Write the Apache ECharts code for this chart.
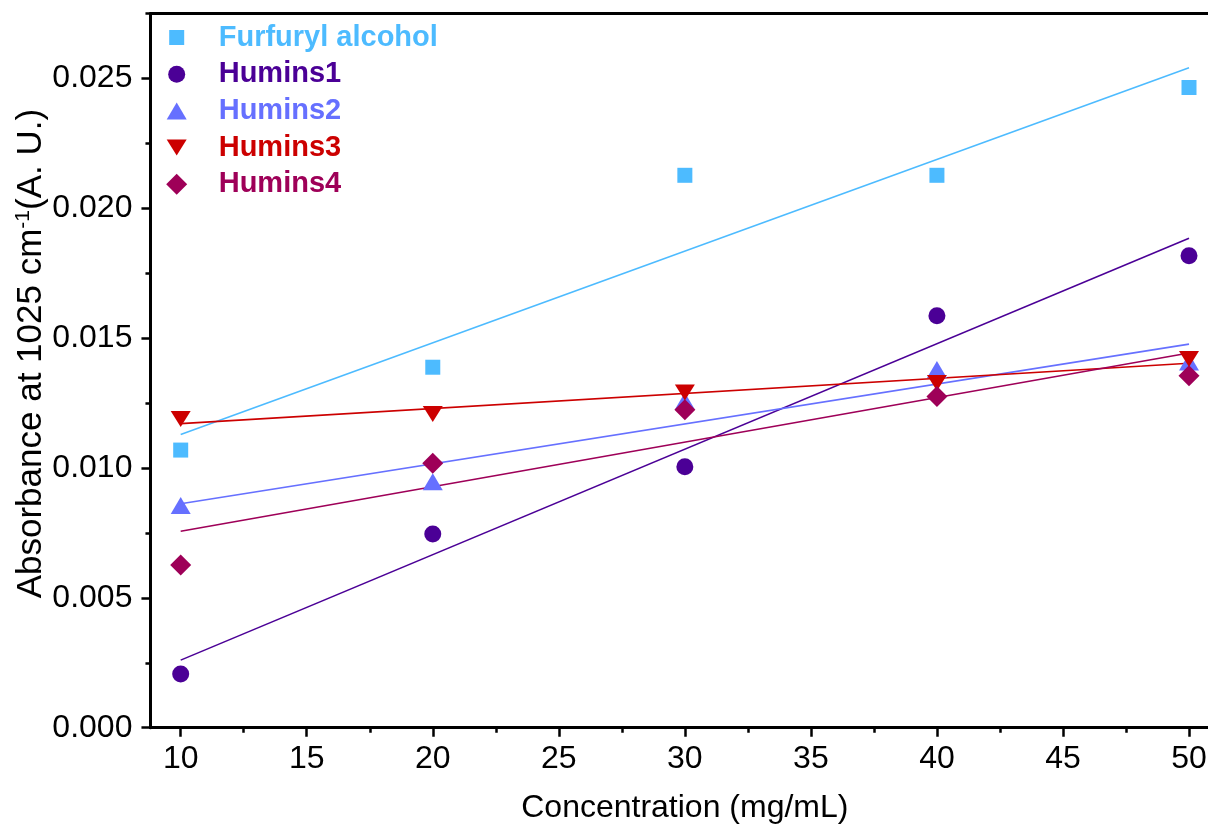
<!DOCTYPE html>
<html>
<head>
<meta charset="utf-8">
<title>Absorbance vs concentration</title>
<script src="https://cdn.jsdelivr.net/npm/echarts@6/dist/echarts.min.js"></script>
<style>
  html, body { margin: 0; padding: 0; background: #ffffff; }
  #chart { width: 1208px; height: 831px; }
</style>
</head>
<body>
<div id="chart"></div>
<script>
// Measured absorbance at 1025 cm-1 for each concentration (mg/mL)
const concentrations = [10, 20, 30, 40, 50];
const furfurylAlcohol = [0.01069, 0.01388, 0.02127, 0.02127, 0.02465];
const humins1 = [0.00207, 0.00746, 0.01005, 0.01586, 0.01817];
const humins2 = [0.00856, 0.00947, 0.01258, 0.01379, 0.01408];
const humins3 = [0.01189, 0.01208, 0.01291, 0.01327, 0.01420];
const humins4 = [0.00626, 0.01018, 0.01224, 0.01275, 0.01355];

const seriesNames = ['Furfuryl alcohol', 'Humins1', 'Humins2', 'Humins3', 'Humins4'];

// Axis tick values
const xMajorTicks = [10, 15, 20, 25, 30, 35, 40, 45, 50];
const xMinorTicks = [12.5, 17.5, 22.5, 27.5, 32.5, 37.5, 42.5, 47.5];
const yMajorTicks = [0, 0.005, 0.010, 0.015, 0.020, 0.025];
const yMinorTicks = [0.0025, 0.0075, 0.0125, 0.0175, 0.0225, 0.0275];

const seriesValues = [furfurylAlcohol, humins1, humins2, humins3, humins4];
const colors = ['#4DBBFF', '#4B0096', '#6670FF', '#CC0000', '#9E0058'];
const symbols = ['rect', 'circle', 'triangle', 'triangle', 'diamond'];
const symbolRotates = [0, 0, 0, 180, 0];
const symbolSizes = [[15, 15], [17, 17], [20, 17], [20, 16], [21, 21]];
// Legend icons; the downward triangle is given as a path
const legendIcons = ['rect', 'circle', 'triangle', 'path://M0,0 L20,0 L10,16 Z', 'diamond'];

const FONT = "'Liberation Sans', Arial, Helvetica, sans-serif";
const X_MIN = 8.8, X_MAX = 51.2;
const Y_MIN = 0, Y_MAX = 0.0275;

// Ordinary least-squares line through a series, evaluated at the first and last concentration
function linearFit(xs, ys) {
  const n = xs.length;
  const mx = xs.reduce((a, b) => a + b, 0) / n;
  const my = ys.reduce((a, b) => a + b, 0) / n;
  let sxy = 0, sxx = 0;
  for (let i = 0; i < n; i++) {
    sxy += (xs[i] - mx) * (ys[i] - my);
    sxx += (xs[i] - mx) * (xs[i] - mx);
  }
  const slope = sxy / sxx;
  const intercept = my - slope * mx;
  const x0 = xs[0], x1 = xs[n - 1];
  return [[x0, intercept + slope * x0], [x1, intercept + slope * x1]];
}

const chart = echarts.init(document.getElementById('chart'), null, { renderer: 'canvas' });

const fitSeries = seriesNames.map((name, i) => ({
  name: name + ' (linear fit)',
  type: 'line',
  data: linearFit(concentrations, seriesValues[i]),
  showSymbol: false,
  symbol: 'none',
  silent: true,
  lineStyle: { color: colors[i], width: 1.6 },
  z: 2
}));

const scatterSeries = seriesNames.map((name, i) => ({
  name: name,
  type: 'scatter',
  data: concentrations.map((c, k) => [c, seriesValues[i][k]]),
  symbol: symbols[i],
  symbolRotate: symbolRotates[i],
  symbolSize: symbolSizes[i],
  itemStyle: { color: colors[i], opacity: 1 },
  z: 3
}));

// One legend block per series so each icon keeps its own size
const legends = seriesNames.map((name, i) => {
  const w = symbolSizes[i][0], h = symbolSizes[i][1];
  const rowCenter = 37.5 + i * 36.7;
  return {
    show: true,
    selectedMode: false,
    orient: 'vertical',
    left: 176.7 - w / 2,
    top: rowCenter - 15,
    padding: 0,
    itemWidth: w,
    itemHeight: h,
    data: [{ name: name, icon: legendIcons[i], textStyle: { color: colors[i] } }],
    textStyle: {
      fontFamily: FONT,
      fontSize: 29,
      fontWeight: 'bold',
      lineHeight: 30,
      padding: [0, 0, 0, 42 - w / 2 - 5]
    }
  };
});

const axisLineStyle = { color: '#000000', width: 3 };
const labelFont = { fontFamily: FONT, fontSize: 32, color: '#000000' };

const option = {
  animation: false,
  backgroundColor: '#ffffff',
  grid: {
    left: 150.45,
    right: -11.25,
    top: 13.5,
    bottom: 103.3,
    containLabel: false,
    outerBoundsMode: 'none'
  },
  legend: legends,
  xAxis: [
    {
      type: 'value',
      position: 'bottom',
      min: X_MIN,
      max: X_MAX,
      name: 'Concentration (mg/mL)',
      nameLocation: 'middle',
      nameGap: 64,
      nameTextStyle: { fontFamily: FONT, fontSize: 32, color: '#000000' },
      axisLine: { show: true, onZero: false, lineStyle: axisLineStyle },
      axisTick: { show: true, inside: false, length: 9, customValues: xMajorTicks,
        lineStyle: { color: '#000000', width: 2.5 } },
      axisLabel: { show: true, margin: 15, customValues: xMajorTicks, ...labelFont },
      splitLine: { show: false }
    },
    {
      type: 'value',
      position: 'bottom',
      min: X_MIN,
      max: X_MAX,
      axisLine: { show: false, onZero: false },
      axisTick: { show: true, inside: false, length: 5, customValues: xMinorTicks,
        lineStyle: { color: '#000000', width: 2.5 } },
      axisLabel: { show: false },
      splitLine: { show: false }
    },
    {
      type: 'value',
      position: 'top',
      min: X_MIN,
      max: X_MAX,
      axisLine: { show: true, onZero: false, lineStyle: axisLineStyle },
      axisTick: { show: false },
      axisLabel: { show: false },
      splitLine: { show: false }
    }
  ],
  yAxis: [
    {
      type: 'value',
      position: 'left',
      min: Y_MIN,
      max: Y_MAX,
      name: 'Absorbance at 1025 cm{sup|-1}(A. U.)',
      nameLocation: 'middle',
      nameGap: 100,
      nameMoveOverlap: false,
      nameRotate: 90,
      nameTextStyle: {
        fontFamily: FONT, fontSize: 35, color: '#000000', lineHeight: 38,
        padding: [0, 0, 0, 34],
        rich: {
          sup: { fontFamily: FONT, fontSize: 21, color: '#000000', verticalAlign: 'top', lineHeight: 38 }
        }
      },
      axisLine: { show: true, onZero: false, lineStyle: axisLineStyle },
      axisTick: { show: true, inside: false, length: 9, customValues: yMajorTicks,
        lineStyle: { color: '#000000', width: 2.5 } },
      axisLabel: { show: true, margin: 18, customValues: yMajorTicks,
        formatter: (v) => v.toFixed(3), ...labelFont },
      splitLine: { show: false }
    },
    {
      type: 'value',
      position: 'left',
      min: Y_MIN,
      max: Y_MAX,
      axisLine: { show: false, onZero: false },
      axisTick: { show: true, inside: false, length: 5, customValues: yMinorTicks,
        lineStyle: { color: '#000000', width: 2.5 } },
      axisLabel: { show: false },
      splitLine: { show: false }
    }
  ],
  series: [...fitSeries, ...scatterSeries]
};

chart.setOption(option);
</script>
</body>
</html>
